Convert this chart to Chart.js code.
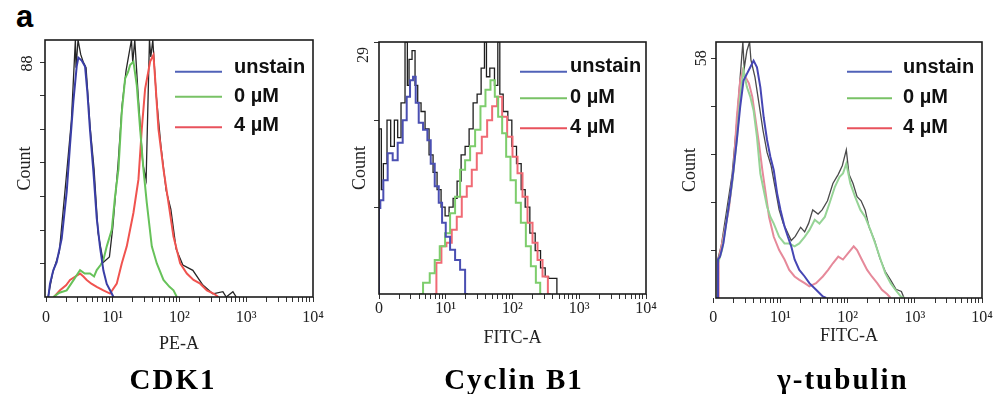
<!DOCTYPE html>
<html><head><meta charset="utf-8">
<script src="https://cdn.jsdelivr.net/npm/chart.js@4.4.1/dist/chart.umd.min.js"></script>
<style>
html,body{margin:0;padding:0;background:#fff;}
body{width:1002px;height:394px;position:relative;overflow:hidden;}
canvas{position:absolute;top:0;}
.ttl{position:absolute;top:364px;font-family:'Liberation Serif','Times New Roman',serif;font-weight:bold;font-size:29px;letter-spacing:2px;line-height:30px;white-space:nowrap;transform:translateX(-50%);color:#000;}
.lab{position:absolute;left:16px;top:-1px;font-family:'Liberation Sans',Arial,sans-serif;font-weight:bold;font-size:31px;line-height:36px;color:#000;}
</style></head><body>
<div class="lab">a</div>
<canvas id="c1" width="333" height="394" style="left:0px"></canvas>
<canvas id="c2" width="332" height="394" style="left:334px"></canvas>
<canvas id="c3" width="331" height="394" style="left:671px"></canvas>
<div class="ttl" style="left:173px">CDK1</div>
<div class="ttl" style="left:514px">Cyclin B1</div>
<div class="ttl" style="left:843px">γ-tubulin</div>
<script>
// ---------- shared axis data ----------
const seriesLabels = ['unstain', '0 µM', '4 µM'];
const xTickValues = [0, 1, 2, 3, 4];            // decades (biexponential display)
const xTickLabels = ['0', '10¹', '10²', '10³', '10⁴'];

// ---------- CDK1 (PE-A) ----------
const cdk1UnstainX = [0.035,0.06,0.11,0.16,0.235,0.31,0.36,0.41,0.46,0.485,0.535,0.585,0.62,0.66,0.71,0.76,0.81,0.86,0.91,0.985,1.01];
const cdk1UnstainY = [0,5.0,10.1,13.1,21.9,39.4,57,73.4,86.5,89.8,88.7,86.5,76.7,62.4,47.1,29.6,18.6,9.9,4.9,1.3,0];
const cdk1ZeroX = [0.11,0.2,0.31,0.42,0.51,0.58,0.66,0.72,0.76,0.82,0.86,0.91,0.985,1.035,1.085,1.135,1.185,1.23,1.26,1.31,1.36,1.41,1.46,1.51,1.585,1.66,1.76,1.85,1.91,1.96];
const cdk1ZeroY = [0,1.6,2.5,6.6,10.1,8.8,8.8,7.7,10.1,12.1,13.9,19,25.2,37.8,47.9,69.3,81.9,84.4,87,88.3,79.4,63,47.9,35.3,19,12.6,6.4,3.8,2.5,0];
const cdk1FourX = [0.12,0.21,0.3,0.36,0.44,0.51,0.56,0.61,0.68,0.76,0.86,0.96,1.06,1.135,1.21,1.31,1.385,1.435,1.485,1.56,1.61,1.635,1.685,1.76,1.835,1.91,2.01,2.11,2.21,2.31,2.41,2.51,2.585];
const cdk1FourY = [0,2.5,4.4,6.4,7.7,8.8,7.7,6.4,5,3.8,2.5,1.3,5,12.6,19,31.6,44.1,63,78.1,88.3,90.8,81.9,63,47.9,35.3,22.7,12.6,8.8,6.4,5,2.5,1.3,0];
const cdk1OverlayX = [0.03,0.1,0.2,0.3,0.38,0.44,0.45,0.48,0.52,0.56,0.6,0.66,0.72,0.78,0.86,0.95,1.0,1.08,1.14,1.2,1.28,1.3,1.33,1.38,1.45,1.5,1.55,1.57,1.6,1.65,1.72,1.8,1.87,1.95,2.05,2.2,2.35,2.5,2.65,2.7,2.8,2.85];
const cdk1OverlayY = [0,9,17,44,66,96.4,86,96.4,91,88,86,64,48,24,13,15,26,50,72,85,96.4,88,96.4,76,50,44,96.4,90,96.4,76,57,40,33,18,12,10,4.5,1.2,2,0,2,0];
const cdk1YTicks = [12.6,25.1,37.7,50.3,62.9,75.4,88];
const cdk1YLabel = 88;
const cdk1YMax = 96.4;

// ---------- Cyclin B1 (FITC-A) ----------
const cycUnstainX = [0,0,0.04,0.09,0.17,0.24,0.32,0.39,0.44,0.49,0.53,0.57,0.62,0.7,0.75,0.8,0.87,0.92,0.97,1.03,1.1,1.18,1.25,1.33];
const cycUnstainY = [0,9.9,10.8,13.1,16.2,15.4,17.4,20,22.7,24.6,25,22,19.7,18.9,17.7,15,12.4,10.5,8.2,6.6,5.1,3.9,2.8,0];
const cycZeroX = [0.6,0.72,0.8,0.87,0.95,1.03,1.1,1.18,1.25,1.33,1.4,1.48,1.56,1.63,1.71,1.76,1.81,1.88,1.93,2.01,2.09,2.16,2.24,2.31,2.39,2.44];
const cycZeroY = [0,1.3,2.4,3.9,5.5,7,9.3,11.2,14.3,15.4,17,18.9,21.6,23.5,24.6,22.7,20.4,18.5,15.8,13.1,10.5,8.2,5.5,3.2,1.3,0];
const cycFourX = [0.82,0.9,0.97,1.05,1.13,1.2,1.28,1.35,1.43,1.5,1.58,1.66,1.73,1.81,1.88,1.96,2.04,2.11,2.19,2.26,2.34,2.41,2.49,2.57];
const cycFourY = [0,3.6,5.5,5.9,7.4,8.9,11.2,12.4,14.3,16.2,18.1,20,21.6,22.7,20.4,18.1,15.8,13.9,11.2,8.2,5.9,3.9,2,0];
const cycOverlayX = [0,0,0.03,0.04,0.09,0.15,0.2,0.26,0.3,0.36,0.42,0.43,0.47,0.52,0.56,0.6,0.66,0.72,0.78,0.84,0.9,0.96,1.02,1.08,1.14,1.2,1.26,1.32,1.38,1.44,1.5,1.56,1.6,1.62,1.7,1.76,1.8,1.82,1.9,1.96,2.02,2.1,2.16,2.22,2.3,2.38,2.46,2.52,2.56,2.66,2.67];
const cycOverlayY = [0,19,19,12,15,20,17,20,18,22,29,24,27,28,24,22,21,19,16,14,12,10,9,10,11,13,16,17,19,22,23,26,29,25,26,24,29,23,21,20,17,15,12,10,7,5,3,2,1.8,1.8,0];
const cycYTicks = [10,20,29];
const cycYLabel = 29;
const cycYMax = 29;

// ---------- γ-tubulin (FITC-A) ----------
const tubUnstainX = [0.07,0.07,0.1,0.15,0.2,0.25,0.3,0.35,0.4,0.45,0.5,0.55,0.6,0.65,0.7,0.75,0.8,0.85,0.9,0.95,1.0,1.06,1.11,1.16,1.21,1.28,1.36,1.43,1.53,1.63,1.68];
const tubUnstainY = [0,9.3,10,13.2,18.9,24.5,30.9,38.2,46.2,52.6,54.2,55.8,57.4,55.8,51,43.7,38.2,34.1,30.9,25.3,21.3,17.3,14.8,12.5,9.3,6.8,5.2,3.6,2,0.4,0];
const tubZeroX = [0.07,0.07,0.13,0.2,0.28,0.35,0.4,0.45,0.5,0.55,0.6,0.65,0.7,0.75,0.8,0.85,0.9,0.98,1.06,1.13,1.21,1.28,1.36,1.43,1.51,1.58,1.66,1.73,1.81,1.88,1.93,1.98,2.04,2.11,2.19,2.26,2.34,2.41,2.49,2.56,2.64,2.71,2.79,2.84];
const tubZeroY = [0,8.4,11.6,18.9,27.7,38.2,48.7,55.1,51,48.7,45.3,38.9,30.1,26.1,22.1,19.6,18,14.8,13.2,13.2,12.5,13.2,14.8,16.4,18.9,18,19.6,22.9,26.9,29.3,30.1,32.5,27.7,24.5,21.3,19.6,16.4,13.2,9.3,6,3.6,2,0.4,0];
const tubFourX = [0.08,0.08,0.15,0.23,0.3,0.35,0.4,0.44,0.48,0.53,0.58,0.63,0.68,0.73,0.78,0.83,0.9,0.98,1.06,1.13,1.21,1.28,1.36,1.43,1.53,1.63,1.71,1.78,1.86,1.93,2.01,2.09,2.14,2.21,2.29,2.36,2.44,2.51,2.59,2.64];
const tubFourY = [0,9.3,14.8,21.3,30.9,43.7,52.6,55.1,53.4,51.9,48.7,43,37.3,30.9,25.3,19.6,14.8,11.6,9.3,6.8,5.2,4.4,3.6,2.8,3.6,5.2,6.8,8.4,10,9.3,10.9,12.5,11.6,9.3,6.8,5.2,3.6,2,0.9,0];
const tubOverlayX = [0.07,0.07,0.12,0.2,0.28,0.35,0.4,0.44,0.46,0.5,0.54,0.56,0.62,0.68,0.74,0.8,0.86,0.92,0.98,1.04,1.1,1.16,1.22,1.3,1.36,1.42,1.48,1.56,1.62,1.7,1.78,1.86,1.92,1.98,2.02,2.08,2.14,2.2,2.26,2.32,2.4,2.48,2.56,2.64,2.72,2.8,2.84];
const tubOverlayY = [0,9.6,12.8,21.3,29.9,42.7,53.4,61.9,55.5,59.8,61.9,57.6,53.4,47,40.5,35.2,32,26.7,21.3,18.1,16,13.9,14.9,17.1,16,18.1,21.3,20.3,21.3,23.5,27.7,29.9,32,35.8,29.9,27.7,24.5,23.5,21.3,17.1,13.9,9.6,6.4,4.3,2.1,1.6,0];
const tubYTicks = [11.6,23.2,34.8,46.4,58];
const tubYLabel = 58;
const tubYMax = 61.9;

// ---------- helpers ----------
const zip = (xs, ys) => xs.map((x, i) => ({x, y: ys[i]}));
const SERIF = "'Liberation Serif','Times New Roman',serif";
const SANS = "'Liberation Sans',Arial,sans-serif";

const framePlugin = {
  id: 'frame',
  afterDatasetsDraw(chart) {
    const {ctx, chartArea: a} = chart;
    ctx.save();
    ctx.strokeStyle = '#1c1c1c';
    ctx.lineWidth = 1.6;
    ctx.strokeRect(a.left, a.top, a.right - a.left, a.bottom - a.top);
    ctx.restore();
  }
};

const innerLegendPlugin = {
  id: 'innerLegend',
  afterDraw(chart, args, o) {
    const {ctx, chartArea: a} = chart;
    ctx.save();
    ctx.font = 'bold 20px ' + SANS;
    ctx.textBaseline = 'alphabetic';
    ctx.textAlign = 'left';
    let row = 0;
    chart.data.datasets.forEach(ds => {
      if (!ds.legendColor) return;
      const ly = a.top + o.lineRows[row];
      ctx.strokeStyle = ds.legendColor;
      ctx.lineWidth = 2;
      ctx.beginPath();
      ctx.moveTo(a.left + o.lineStart, ly);
      ctx.lineTo(a.left + o.lineEnd, ly);
      ctx.stroke();
      ctx.fillStyle = '#111';
      ctx.fillText(ds.label, a.left + o.textX, a.top + o.textRows[row]);
      row++;
    });
    ctx.restore();
  }
};

function minorLogTicks() {
  const t = [];
  for (let d = 0; d < 4; d++) for (let m = 1; m <= 9; m++) t.push(d + Math.log10(m));
  t.push(4);
  return t;
}

function makePanel(id, p) {
  const sets = [
    {label: seriesLabels[0], x: p.ux, y: p.uy, color: p.colors[0], legendColor: '#5062b8', w: 2, order: 0},
    {label: seriesLabels[1], x: p.zx, y: p.zy, color: p.colors[1], legendColor: '#78c266', w: 2, order: 0},
    {label: seriesLabels[2], x: p.fx, y: p.fy, color: p.colors[2], legendColor: '#e8525c', w: 2, order: 0},
    {label: 'overlay', x: p.ox, y: p.oy, color: p.overlayColor, legendColor: null, w: 1.3, order: 5}
  ];
  new Chart(document.getElementById(id), {
    type: 'line',
    data: {
      datasets: sets.map(s => ({
        label: s.label, data: zip(s.x, s.y), borderColor: s.color, backgroundColor: s.color,
        borderWidth: s.w, pointRadius: 0, tension: 0, fill: false, order: s.order,
        stepped: p.stepped, legendColor: s.legendColor
      }))
    },
    options: {
      responsive: false, animation: false, devicePixelRatio: 1,
      layout: {padding: {left: 0, right: 20, top: p.top, bottom: p.bottom}},
      plugins: {legend: {display: false}, tooltip: {enabled: false}, innerLegend: p.legend},
      scales: {
        x: {
          type: 'linear', min: p.xMin, max: 4,
          afterBuildTicks(s) { s.ticks = minorLogTicks().map(v => ({value: v})); },
          afterFit(s) { s.height = 60; },
          grid: {drawOnChartArea: false, drawTicks: true, tickLength: 5, color: '#333', lineWidth: 1},
          border: {display: false},
          ticks: {
            autoSkip: false, maxRotation: 0, minRotation: 0, padding: p.xPad, color: '#222',
            font: {family: SERIF, size: 16},
            callback(v) {
              const i = xTickValues.findIndex(t => Math.abs(t - v) < 1e-6);
              return i >= 0 ? xTickLabels[i] : '';
            }
          },
          title: {display: true, text: p.xTitle, color: '#222', font: {family: SERIF, size: 18},
                  padding: {top: 0, bottom: p.xTitlePad}}
        },
        y: {
          type: 'linear', min: 0, max: p.yMax,
          afterBuildTicks(s) { s.ticks = p.yTicks.map(v => ({value: v})); },
          afterFit(s) { s.width = 45; },
          grid: {drawOnChartArea: false, drawTicks: true, tickLength: 5, color: '#333', lineWidth: 1},
          border: {display: false},
          ticks: {
            autoSkip: false, minRotation: 90, maxRotation: 90, crossAlign: 'center',
            padding: p.yPad, labelOffset: p.yLabelOffset, color: '#222',
            font: {family: SERIF, size: 16},
            callback(v) { return v === p.yLabel ? String(p.yLabel) : ''; }
          },
          title: {display: true, text: 'Count', color: '#222', font: {family: SERIF, size: 18},
                  padding: {top: p.yTitlePad, bottom: 0}}
        }
      }
    },
    plugins: [framePlugin, innerLegendPlugin]
  });
}

makePanel('c1', {
  ux: cdk1UnstainX, uy: cdk1UnstainY, zx: cdk1ZeroX, zy: cdk1ZeroY, fx: cdk1FourX, fy: cdk1FourY,
  ox: cdk1OverlayX, oy: cdk1OverlayY, overlayColor: '#262626', stepped: false,
  colors: ['#3a3ea6', '#67c25a', '#f0534f'],
  top: 40, bottom: 37, xMin: -0.015, xPad: 6, xTitle: 'PE-A', xTitlePad: 2,
  yMax: cdk1YMax, yTicks: cdk1YTicks, yLabel: cdk1YLabel, yPad: 4.5, yLabelOffset: 1, yTitlePad: 14,
  legend: {lineStart: 130, lineEnd: 177, textX: 189, lineRows: [31.7, 56.7, 87.3], textRows: [33, 62, 91]}
});
makePanel('c2', {
  ux: cycUnstainX, uy: cycUnstainY, zx: cycZeroX, zy: cycZeroY, fx: cycFourX, fy: cycFourY,
  ox: cycOverlayX, oy: cycOverlayY, overlayColor: '#1e1e1e', stepped: 'middle',
  colors: ['#4a4fb2', '#7dcd6c', '#f06a74'],
  top: 42, bottom: 40, xMin: 0, xPad: 0, xTitle: 'FITC-A', xTitlePad: 4.7,
  yMax: cycYMax, yTicks: cycYTicks, yLabel: cycYLabel, yPad: 2.5, yLabelOffset: 13, yTitlePad: 15,
  legend: {lineStart: 141, lineEnd: 188, textX: 191, lineRows: [29.7, 56.3, 86.3], textRows: [29.7, 61, 91]}
});
makePanel('c3', {
  ux: tubUnstainX, uy: tubUnstainY, zx: tubZeroX, zy: tubZeroY, fx: tubFourX, fy: tubFourY,
  ox: tubOverlayX, oy: tubOverlayY, overlayColor: '#4a4a4a', stepped: false,
  colors: ['#4646b4', '#96d496', '#e6899a'],
  top: 42, bottom: 36, xMin: 0.04, xPad: 5, xTitle: 'FITC-A', xTitlePad: 10.7,
  yMax: tubYMax, yTicks: tubYTicks, yLabel: tubYLabel, yPad: 1, yLabelOffset: 0, yTitlePad: 8,
  legend: {lineStart: 131, lineEnd: 176, textX: 187, lineRows: [29.7, 56.3, 86.3], textRows: [31.3, 61, 91]}
});
</script>
</body></html>
